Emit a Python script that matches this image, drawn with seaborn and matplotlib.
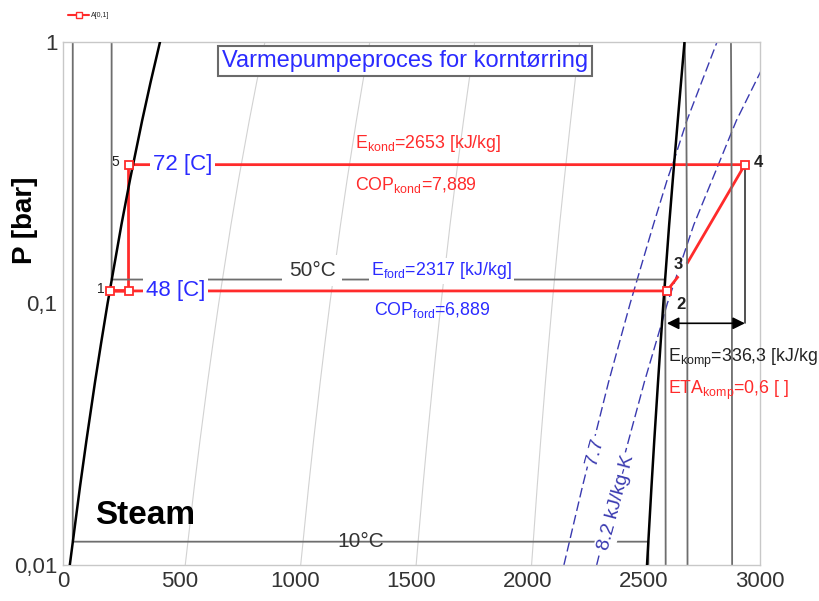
import numpy as np
import pandas as pd
import matplotlib
matplotlib.use("Agg")
import matplotlib.pyplot as plt
from matplotlib.lines import Line2D
import seaborn as sns

# --- Saturation table for water (pressure in bar, enthalpy in kJ/kg) ---
sat_P = [0.01, 0.02, 0.03, 0.05, 0.07, 0.10, 0.20, 0.30, 0.50, 0.70, 1.00]
sat_hf = [29.3, 73.4, 101.0, 137.7, 163.4, 191.8, 251.4, 289.2, 340.5, 376.7, 417.5]
sat_hg = [2513.7, 2533.0, 2545.0, 2561.0, 2572.0, 2584.0, 2609.0, 2625.0, 2646.0, 2660.0, 2675.0]

# constant-quality lines inside the dome
quality_levels = [0.2, 0.4, 0.6, 0.8]

# isotherms (liquid branch, two-phase plateau, vapour branch)
iso10_h = [42.0, 42.0, 2519.2, 2519.5]
iso10_P = [1.0, 0.01228, 0.01228, 0.01]
iso50_h = [209.3, 209.3, 2592.0, 2593.0, 2594.0]
iso50_P = [1.0, 0.1235, 0.1235, 0.05, 0.01]
iso100_h = [2676.0, 2683.0, 2687.0, 2688.0]
iso100_P = [1.0, 0.5, 0.1, 0.01]
iso200_h = [2875.0, 2877.0, 2879.0, 2880.0]
iso200_P = [1.0, 0.5, 0.1, 0.01]

# isentropes s = 7.7 and 8.2 kJ/kg-K
s77_P = [0.01, 0.02, 0.05, 0.10, 0.20, 0.30, 0.36, 0.50, 1.00]
s77_h = [2156, 2236, 2348, 2441, 2541, 2602, 2633, 2685, 2815]
s82_P = [0.01, 0.02, 0.05, 0.086, 0.10, 0.20, 0.50, 1.00]
s82_h = [2297, 2381, 2502, 2580, 2601, 2715, 2898, 3066]

# heat pump cycle states: 1, after throttle, 5, 4, 3, 2
state_names = ["1", "1b", "5", "4", "3", "2"]
state_h = [201.0, 282.0, 282.0, 2935.0, 2669.0, 2599.0]
state_P = [0.1117, 0.1117, 0.3396, 0.3396, 0.134, 0.1117]
cycle_order = ["1", "1b", "5", "4", "3", "2", "1"]
marked_states = ["1", "1b", "5", "4", "2"]

# results
E_kond = "2653"
COP_kond = "7,889"
E_ford = "2317"
COP_ford = "6,889"
E_komp = "336,3"
ETA_komp = "0,6"
T_kond = "72"
T_ford = "48"

x_ticks = [0, 500, 1000, 1500, 2000, 2500, 3000]
y_ticks = [0.01, 0.1, 1.0]
y_tick_labels = ["0,01", "0,1", "1"]

sns.set_theme(style="white")
plt.rcParams["font.family"] = ["Liberation Sans", "DejaVu Sans"]
plt.rcParams["mathtext.default"] = "regular"

fig = plt.figure(figsize=(8.2, 6.01), dpi=100)
ax = fig.add_axes([63 / 820, 1 - 565 / 601, 697 / 820, 523 / 601])
ax.set_yscale("log")

RED = "#ff2b2b"
BLUE = "#2b2bff"
DBLUE = "#3a3ab0"
GRAY = "#6e6e6e"

sat = pd.DataFrame({"P": sat_P, "hf": sat_hf, "hg": sat_hg})

# quality lines
for q in quality_levels:
    hq = sat["hf"] + q * (sat["hg"] - sat["hf"])
    sns.lineplot(x=hq, y=sat["P"], sort=False, estimator=None, ax=ax,
                 color="#d2d2d2", lw=0.8, zorder=1)

# isentropes
for hs, Ps in [(s77_h, s77_P), (s82_h, s82_P)]:
    sns.lineplot(x=hs, y=Ps, sort=False, estimator=None, ax=ax,
                 color=DBLUE, lw=1.0, linestyle=(0, (7, 3)), zorder=1.5)

# cycle line
cyc = pd.DataFrame({"h": state_h, "P": state_P}, index=state_names)
path = cyc.loc[cycle_order]
sns.lineplot(x=path["h"].values, y=path["P"].values, sort=False, estimator=None,
             ax=ax, color=RED, lw=2.0, zorder=2)
# gap in the line at state 3
ax.plot(cyc.loc["3", "h"], cyc.loc["3", "P"], marker="o", ms=10, mfc="white",
        mec="white", ls="none", zorder=2.2)

# isotherms
for hi, Pi in [(iso10_h, iso10_P), (iso50_h, iso50_P),
               (iso100_h, iso100_P), (iso200_h, iso200_P)]:
    sns.lineplot(x=hi, y=Pi, sort=False, estimator=None, ax=ax,
                 color=GRAY, lw=1.3, zorder=2.5)

# saturation dome
sns.lineplot(x=sat["hf"], y=sat["P"], sort=False, estimator=None, ax=ax,
             color="black", lw=1.8, zorder=2.6)
sns.lineplot(x=sat["hg"], y=sat["P"], sort=False, estimator=None, ax=ax,
             color="black", lw=1.8, zorder=2.6)

# state markers
mk = cyc.loc[marked_states]
ax.plot(mk["h"], mk["P"], ls="none", marker="s", ms=5.5, mfc="white",
        mec=RED, mew=1.3, zorder=3)

# compressor work arrow from state 2 to state 4
P_arrow = 0.084
h2, h4, P4 = cyc.loc["2", "h"], cyc.loc["4", "h"], cyc.loc["4", "P"]
ax.plot([h4, h4], [P_arrow, P4], color="#333333", lw=1.2, zorder=2.4)
ax.annotate("", xy=(h4, P_arrow), xytext=(h2, P_arrow),
            arrowprops=dict(arrowstyle="<|-|>", color="black", lw=1.2,
                            mutation_scale=18, shrinkA=0, shrinkB=0),
            zorder=3)

ax.set_xlim(0, 3000)
ax.set_ylim(0.01, 1.0)
ax.set_xticks(x_ticks)
ax.set_xticklabels([str(v) for v in x_ticks])
ax.set_yticks(y_ticks)
ax.set_yticklabels(y_tick_labels)
ax.minorticks_off()
ax.tick_params(axis="both", length=0, labelsize=16, labelcolor="#333333", pad=4)
for sp in ax.spines.values():
    sp.set_color("#c8c8c8")
    sp.set_linewidth(1.0)
ax.set_xlabel("")
ax.set_ylabel("P [bar]", fontsize=20, fontweight="bold", color="black")
ax.yaxis.set_label_coords(-0.036, 0.66)

wbox = dict(boxstyle="square,pad=0.12", fc="white", ec="none")

# title box
ax.text(1472, 0.846, "Varmepumpeproces for korntørring", color=BLUE, fontsize=17,
        ha="center", va="center", zorder=5,
        bbox=dict(boxstyle="square,pad=0.15", fc="white", ec="#6a6a6a", lw=1.5))

# temperature labels on the cycle
ax.text(387, 0.3396, f"{T_kond} [C]", color=BLUE, fontsize=16, ha="left", va="center",
        zorder=5, bbox=wbox)
ax.text(357, 0.1117, f"{T_ford} [C]", color=BLUE, fontsize=16, ha="left", va="center",
        zorder=5, bbox=wbox)

# isotherm labels
ax.text(1072, 0.1335, "50°C", color="#333333", fontsize=15, ha="center", va="center",
        zorder=5, bbox=dict(boxstyle="square,pad=0.3", fc="white", ec="none"))
ax.text(1283, 0.01228, "10°C", color="#333333", fontsize=15, ha="center", va="center",
        zorder=5)

# energy and COP labels
ax.text(1257, 0.41, r"E$_{kond}$=" + E_kond + " [kJ/kg]", color=RED, fontsize=12.8,
        ha="left", va="center", zorder=5)
ax.text(1257, 0.284, r"COP$_{kond}$=" + COP_kond, color=RED, fontsize=12.8,
        ha="left", va="center", zorder=5)
ax.text(1326, 0.1332, r"E$_{ford}$=" + E_ford + " [kJ/kg]", color=BLUE, fontsize=12.8,
        ha="left", va="center", zorder=5, bbox=wbox)
ax.text(1339, 0.0944, r"COP$_{ford}$=" + COP_ford, color=BLUE, fontsize=12.8,
        ha="left", va="center", zorder=5)
ax.text(2604, 0.0618, r"E$_{komp}$=" + E_komp + " [kJ/kg", color="#222222", fontsize=12.8,
        ha="left", va="center", zorder=5, clip_on=False)
ax.text(2604, 0.0467, r"ETA$_{komp}$=" + ETA_komp + " [ ]", color=RED, fontsize=12.8,
        ha="left", va="center", zorder=5)

# substance label
ax.text(138, 0.0154, "Steam", color="black", fontsize=24, fontweight="bold",
        ha="left", va="center", zorder=5)

# state number labels
ax.text(164, 0.1133, "1", fontsize=10, ha="center", va="center", color="#222222", zorder=5)
ax.text(224, 0.347, "5", fontsize=10, ha="center", va="center", color="#222222", zorder=5)
ax.text(2660, 0.0987, "2", fontsize=12, fontweight="bold", ha="center", va="center",
        color="#222222", zorder=5)
ax.text(2647, 0.1415, "3", fontsize=12, fontweight="bold", ha="center", va="center",
        color="#222222", zorder=5)
ax.text(2992, 0.345, "4", fontsize=12, fontweight="bold", ha="center", va="center",
        color="#222222", zorder=5, clip_on=False)

# isentrope labels
ax.text(2290, 0.0270, "7.7", color=DBLUE, fontsize=14, rotation=75, ha="center",
        va="center", rotation_mode="anchor", zorder=5, bbox=wbox)
ax.text(2381, 0.01726, "8.2 kJ/kg-K", color=DBLUE, fontsize=14, rotation=75,
        ha="center", va="center", rotation_mode="anchor", zorder=5, bbox=wbox)

# legend
handle = Line2D([], [], color=RED, lw=1.5, marker="s", ms=4, mfc="white", mec=RED)
fig.legend(handles=[handle], labels=["A[0,1]"], loc="upper left",
           bbox_to_anchor=(62 / 820, 1 - 6 / 601), frameon=False, fontsize=5,
           handlelength=3, handletextpad=0.3)

fig.savefig("out.png", dpi=100)
